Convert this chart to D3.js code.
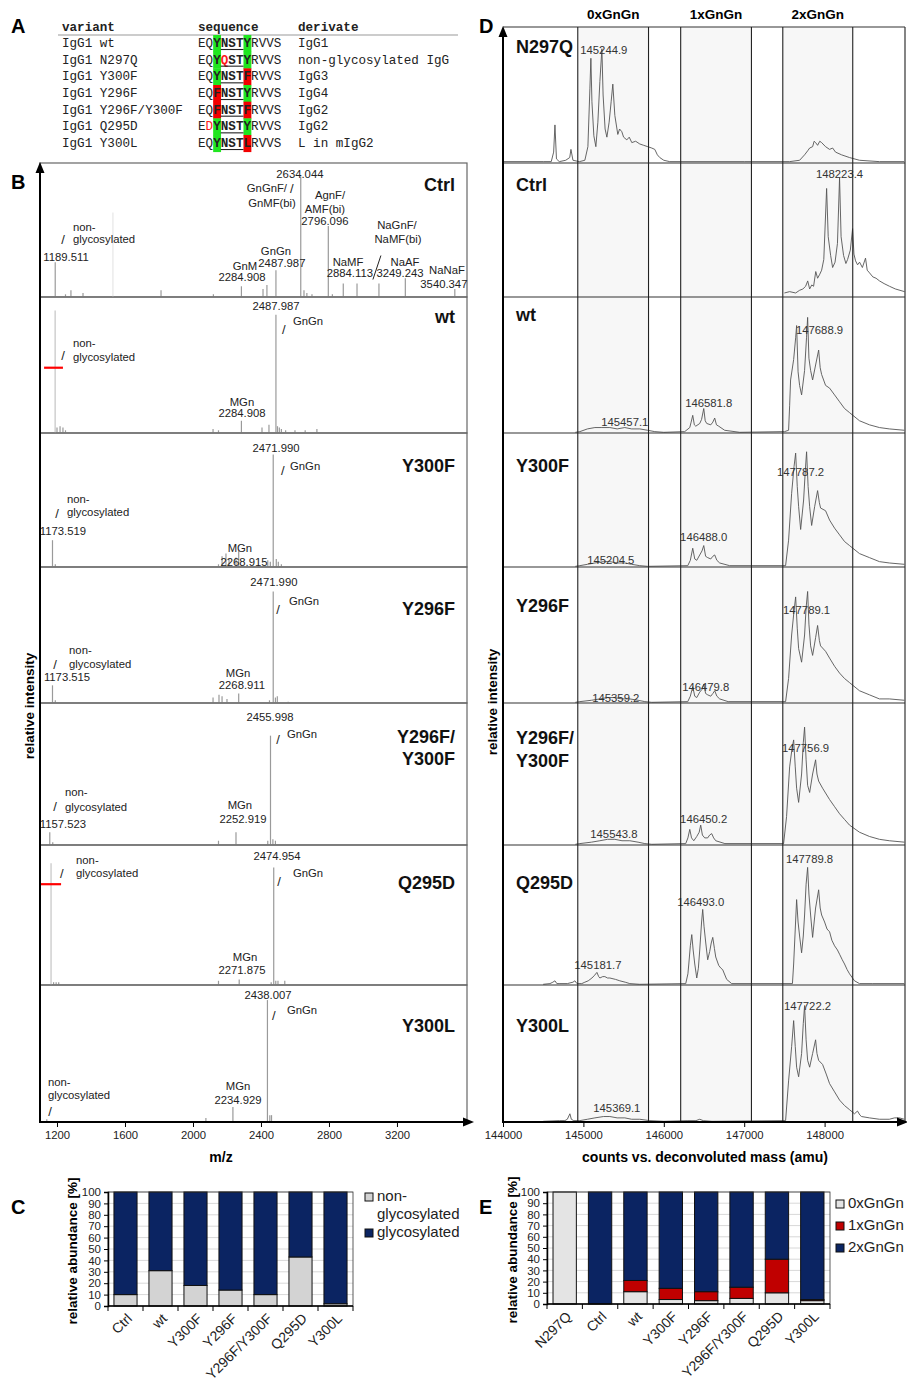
<!DOCTYPE html>
<meta charset="utf-8">
<style>
html, body { margin: 0; background: #fff; }
svg { display: block; font-family: "Liberation Sans", Arial, Helvetica, sans-serif; }
</style>
<body>
<svg id="fig" width="907" height="1386"></svg>
</body>
<script src="https://cdn.jsdelivr.net/npm/d3@7"></script>
<script>

/* ---------- panel A: variant table ---------- */
var variants = ["IgG1 wt", "IgG1 N297Q", "IgG1 Y300F", "IgG1 Y296F", "IgG1 Y296F/Y300F", "IgG1 Q295D", "IgG1 Y300L"];
var sequences = ["EQYNSTYRVVS", "EQYQSTYRVVS", "EQYNSTFRVVS", "EQFNSTYRVVS", "EQFNSTFRVVS", "EDYNSTYRVVS", "EQYNSTLRVVS"];
var derivates = ["IgG1", "non-glycosylated IgG", "IgG3", "IgG4", "IgG2", "IgG2", "L in mIgG2"];

/* ---------- panel B: MALDI spectra, [m/z, relative intensity %] ---------- */
var msSamples = ["Ctrl", "wt", "Y300F", "Y296F", "Y296F/Y300F", "Q295D", "Y300L"];
var mzTicks = [1200, 1600, 2000, 2400, 2800, 3200];

var peaksCtrl = [[1189.5,26],[1250,2],[1282,5],[1353,3],[1812,5],[2120,2],[2284.9,8],[2412,6],[2435,9],[2488,20],[2634,90],[2653,5],[2670,3],[2700,2],[2796.1,53],[2820,2],[2884.1,10],[2965,10],[3094,10],[3249.2,14],[3540.3,6]];
var peaksWt = [[1200,4],[1218,5],[1235,4],[1250,2],[2118,3],[2150,2],[2284.9,9],[2406,4],[2447,6],[2488,87],[2497,5],[2508,4],[2520,3],[2545,2],[2600,2],[2660,2],[2729,3]];
var peaksY300F = [[1173.5,20],[1190,2],[2150,2],[2171,8],[2194,10],[2212,6],[2253,7],[2268.9,12],[2440,5],[2455,4],[2472,84],[2490,6],[2502,4],[2520,2]];
var peaksY296F = [[1173.5,13],[1190,2],[2118,4],[2153,6],[2171,5],[2200,3],[2268.9,7],[2450,2],[2472,82],[2485,4],[2496,5],[2560,1]];
var peaksY296FY300F = [[1157.5,9],[1175,2],[2150,3],[2253,9],[2440,3],[2456,77],[2470,4],[2485,3]];
var peaksQ295D = [[1180,2],[1195,2],[1210,2],[2150,3],[2271.9,4],[2460,2],[2475,84],[2487,3],[2500,3],[2540,3]];
var peaksY300L = [[1140,2],[2076,3],[2234.9,11],[2438,89],[2452,5],[2462,5]];
var msPeaks = [peaksCtrl, peaksWt, peaksY300F, peaksY296F, peaksY296FY300F, peaksQ295D, peaksY300L];

// faint (light grey) peaks
var faintCtrl = [[1529,63]];
var faintWt = [[1189,90]];
var faintQ295D = [[1165,87]];
var msFaint = [faintCtrl, faintWt, [], [], [], faintQ295D, []];

// annotations: [text, m/z, intensity, anchor]
var labCtrl = [["2634.044",2629,92,"middle"],["GnGnF/",2435,81,"middle"],["/",2582,81,"middle"],["GnMF(bi)",2465,70,"middle"],
  ["AgnF/",2806,76,"middle"],["AMF(bi)",2776,66,"middle"],["2796.096",2776,57,"middle"],
  ["non-",1294,52,"start"],["/",1235,43,"middle"],["glycosylated",1294,43,"start"],["1189.511",1253,30,"middle"],
  ["GnGn",2488,34,"middle"],["2487.987",2523,25,"middle"],["GnM",2306,23,"middle"],["2284.908",2288,15,"middle"],
  ["NaMF",2912,26,"middle"],["2884.113",2923,18,"middle"],["NaGnF/",3200,54,"middle"],["NaMF(bi)",3206,43,"middle"],
  ["NaAF",3247,26,"middle"],["3249.243",3218,18,"middle"],["NaNaF",3494,20,"middle"],["3540.347",3476,10,"middle"]];
var labWt = [["2487.987",2488,93,"middle"],["/",2535,76,"middle"],["GnGn",2588,82,"start"],["non-",1294,66,"start"],
  ["/",1235,57,"middle"],["glycosylated",1294,56,"start"],["MGn",2288,23,"middle"],["2284.908",2288,15,"middle"]];
var labY300F = [["2471.990",2488,89,"middle"],["/",2529,72,"middle"],["GnGn",2571,75,"start"],["non-",1259,51,"start"],
  ["/",1200,40,"middle"],["glycosylated",1259,41,"start"],["1173.519",1235,27,"middle"],["MGn",2276,14,"middle"],["2268.915",2300,4,"middle"]];
var labY296F = [["2471.990",2476,89,"middle"],["/",2500,69,"middle"],["GnGn",2565,75,"start"],["non-",1271,39,"start"],
  ["/",1188,28,"middle"],["glycosylated",1271,29,"start"],["1173.515",1259,19,"middle"],["MGn",2265,22,"middle"],["2268.911",2288,13,"middle"]];
var labY296FY300F = [["2455.998",2453,90,"middle"],["/",2500,74,"middle"],["GnGn",2553,78,"start"],["non-",1247,37,"start"],
  ["/",1188,27,"middle"],["glycosylated",1247,27,"start"],["1157.523",1235,15,"middle"],["MGn",2276,28,"middle"],["2252.919",2294,18,"middle"]];
var labQ295D = [["2474.954",2494,92,"middle"],["/",2506,74,"middle"],["GnGn",2588,80,"start"],["non-",1312,89,"start"],
  ["/",1229,80,"middle"],["glycosylated",1312,80,"start"],["MGn",2306,20,"middle"],["2271.875",2288,11,"middle"]];
var labY300L = [["2438.007",2441,93,"middle"],["/",2476,78,"middle"],["GnGn",2553,82,"start"],["non-",1147,29,"start"],
  ["glycosylated",1147,20,"start"],["/",1159,8,"middle"],["MGn",2265,26,"middle"],["2234.929",2265,16,"middle"]];
var msLabels = [labCtrl, labWt, labY300F, labY296F, labY296FY300F, labQ295D, labY300L];
// the long slash between NaGnF/NaMF(bi) and its peak
var bigSlashCtrl = [3082, 22];
// red marks: [row, m/z from, m/z to, intensity]
var redMarks = [[1, 1124, 1235, 48], [5, 1100, 1224, 72]];

/* ---------- panel D: deconvoluted intact mass, [mass, relative intensity %] ---------- */
var dSamples = ["N297Q", "Ctrl", "wt", "Y300F", "Y296F", "Y296F/Y300F", "Q295D", "Y300L"];
var massTicks = [144000, 145000, 146000, 147000, 148000];
var gnRanges = [[144930, 145810], [146210, 147090], [147480, 148350]];
var gnNames = ["0xGnGn", "1xGnGn", "2xGnGn"];

var traceN297Q = [[144000,1],[144500,1],[144600,1],[144630,8],[144646,28],[144665,3],[144700,1],[144780,2],[144830,4],[144845,10],[144870,2],[144950,1],[145018,2],[145056,12],[145081,55],[145093,77],[145106,45],[145130,20],[145155,12],[145180,30],[145205,60],[145230,84],[145245,50],[145270,25],[145292,19],[145320,30],[145345,45],[145366,58],[145391,35],[145428,21],[145450,25],[145478,23],[145500,19],[145540,17],[145570,19],[145602,15],[145650,16],[145701,14],[145750,13],[145801,12],[145850,11],[145888,10],[145920,6],[145950,4],[146000,2],[146074,1],[147000,1],[147565,1],[147689,2],[147751,6],[147790,9],[147814,11],[147851,12],[147870,16],[147888,15],[147913,13],[147940,16],[147963,15],[148012,12],[148062,10],[148100,11],[148136,8],[148211,6],[148310,4],[148434,2],[148682,1],[148990,1]];
var traceCtrl = [[147500,3],[147565,4],[147640,3],[147689,5],[147730,6],[147764,8],[147790,12],[147814,6],[147840,9],[147863,8],[147890,19],[147913,14],[147940,17],[147963,20],[147990,28],[148025,81],[148045,45],[148075,31],[148100,22],[148130,26],[148160,40],[148186,89],[148205,45],[148236,31],[148265,25],[148286,28],[148320,35],[148348,51],[148365,32],[148385,27],[148410,24],[148435,26],[148470,22],[148509,29],[148530,20],[148559,18],[148600,15],[148640,14],[148683,12],[148740,10],[148807,8],[148880,6],[148994,4]];
var traceWt = [[144900,0.5],[144956,1],[145050,3],[145143,4],[145230,4],[145329,4],[145420,3],[145515,4],[145600,3],[145701,3],[145800,2],[145888,1],[146000,0.5],[146260,1],[146323,4],[146340,8],[146360,13],[146380,6],[146398,5],[146447,7],[146470,10],[146497,18],[146515,9],[146534,7],[146584,6],[146610,8],[146633,11],[146655,6],[146683,5],[146757,2],[146944,0.5],[147502,1],[147552,2],[147565,20],[147577,39],[147615,54],[147640,70],[147652,79],[147670,45],[147689,35],[147714,28],[147751,46],[147775,70],[147789,85],[147805,55],[147826,46],[147851,39],[147888,50],[147926,61],[147945,48],[147963,43],[148012,35],[148062,33],[148124,28],[148186,23],[148248,18],[148310,15],[148434,9],[148558,6],[148682,4],[148805,3],[148992,2]];
var traceY300F = [[144900,0.5],[144956,1],[145050,2],[145143,3],[145250,4],[145329,4],[145420,3],[145515,3],[145600,2],[145701,1],[145800,0.5],[146298,1],[146330,5],[146360,14],[146385,6],[146410,5],[146447,9],[146475,12],[146497,16],[146520,8],[146546,7],[146584,6],[146610,8],[146633,9],[146660,5],[146695,3],[146819,1],[147515,1],[147552,20],[147590,55],[147620,75],[147640,85],[147660,60],[147677,45],[147702,28],[147739,50],[147760,72],[147776,86],[147795,60],[147814,45],[147839,31],[147876,45],[147913,57],[147935,48],[147950,44],[148012,42],[148062,35],[148124,29],[148186,24],[148248,19],[148310,16],[148434,10],[148558,7],[148682,4],[148805,3],[148992,2]];
var traceY296F = [[144900,0.5],[144956,1],[145100,2],[145205,3],[145300,4],[145391,4],[145480,3],[145577,3],[145680,2],[145764,1],[145850,0.5],[146298,1],[146330,5],[146360,12],[146385,5],[146410,4],[146447,8],[146475,10],[146497,14],[146520,7],[146546,6],[146584,5],[146610,7],[146633,9],[146660,5],[146695,3],[146800,1],[147515,1],[147552,18],[147590,50],[147620,68],[147640,78],[147660,55],[147677,40],[147714,30],[147751,50],[147770,70],[147789,82],[147805,58],[147826,42],[147851,35],[147888,48],[147913,57],[147935,46],[147950,42],[148012,38],[148062,33],[148124,27],[148186,22],[148248,18],[148310,15],[148434,9],[148558,6],[148682,3],[148805,3],[148992,2]];
var traceY296FY300F = [[144900,0.5],[144956,1],[145100,2],[145205,3],[145300,4],[145391,4],[145480,3],[145577,3],[145680,2],[145764,1],[145850,0.5],[146273,1],[146300,5],[146323,11],[146345,5],[146373,3],[146410,6],[146440,9],[146459,14],[146480,7],[146509,5],[146546,5],[146570,7],[146596,8],[146620,5],[146646,3],[146760,1],[147490,1],[147527,20],[147565,55],[147595,68],[147615,74],[147635,55],[147652,40],[147677,30],[147714,50],[147735,72],[147751,83],[147770,60],[147789,42],[147814,37],[147851,50],[147888,60],[147905,50],[147926,45],[147975,40],[148062,32],[148124,27],[148186,22],[148248,18],[148310,14],[148434,9],[148558,6],[148682,4],[148805,3],[148992,2]];
var traceQ295D = [[144500,0.5],[144584,1],[144620,2],[144646,3],[144670,1],[144708,1],[144800,1],[144870,2],[144894,3],[144920,1],[144980,1],[145018,2],[145060,3],[145106,5],[145140,7],[145168,9],[145190,6],[145205,5],[145240,6],[145267,6],[145300,5],[145329,5],[145400,4],[145453,3],[145520,2],[145577,1],[145700,0.5],[146273,1],[146300,8],[146311,15],[146330,28],[146348,36],[146365,25],[146385,15],[146410,5],[146430,12],[146447,25],[146470,45],[146484,54],[146500,42],[146522,30],[146546,18],[146571,24],[146590,30],[146609,34],[146630,26],[146646,20],[146683,14],[146710,12],[146732,11],[146782,4],[146844,1],[147600,1],[147615,15],[147627,30],[147652,61],[147670,45],[147689,35],[147714,23],[147735,35],[147751,50],[147770,72],[147789,84],[147805,65],[147826,50],[147851,34],[147870,45],[147888,55],[147926,68],[147945,55],[147963,50],[148000,45],[148030,40],[148062,38],[148090,32],[148124,28],[148160,25],[148186,22],[148220,18],[148248,15],[148280,11],[148310,8],[148372,3],[148434,1],[148600,1],[148992,1]];
var traceY300L = [[144500,0.5],[144700,1],[144770,1],[144800,2],[144832,6],[144850,2],[144880,1],[144956,1],[145050,2],[145143,3],[145250,4],[145329,4],[145420,3],[145515,3],[145600,2],[145701,2],[145826,1],[146000,0.5],[146300,1],[146400,1],[146447,2],[146490,1],[146600,0.5],[147515,1],[147552,30],[147590,55],[147615,74],[147635,55],[147652,40],[147677,33],[147714,50],[147735,72],[147751,85],[147770,60],[147789,45],[147814,40],[147851,50],[147888,60],[147905,50],[147926,45],[147975,42],[148020,35],[148062,28],[148124,22],[148186,16],[148248,12],[148310,9],[148372,6],[148409,8],[148440,5],[148459,4],[148558,3],[148682,2],[148805,2],[148870,3],[148930,3],[148992,2]];
var dTraces = [traceN297Q, traceCtrl, traceWt, traceY300F, traceY296F, traceY296FY300F, traceQ295D, traceY300L];

// peak mass labels: [text, mass, intensity]
var dLabN297Q = [["145244.9",145254,83]];
var dLabCtrl = [["148223.4",148186,92]];
var dLabWt = [["145457.1",145515,8],["146581.8",146559,22],["147688.9",147937,76]];
var dLabY300F = [["145204.5",145341,5],["146488.0",146496,22],["147787.2",147701,71]];
var dLabY296F = [["145359.2",145403,4],["146479.8",146521,12],["147789.1",147776,68]];
var dLabY296FY300F = [["145543.8",145379,8],["146450.2",146496,18],["147756.9",147763,68]];
var dLabQ295D = [["145181.7",145180,14],["146493.0",146459,59],["147789.8",147813,90]];
var dLabY300L = [["145369.1",145416,10],["147722.2",147788,85]];
var dLabels = [dLabN297Q, dLabCtrl, dLabWt, dLabY300F, dLabY296F, dLabY296FY300F, dLabQ295D, dLabY300L];

/* ---------- panel C: glycosylation (%) ---------- */
var pctTicks = [0, 10, 20, 30, 40, 50, 60, 70, 80, 90, 100];
var cNonGly = [10, 31, 18, 14, 10, 43, 2];
var cGly = [90, 69, 82, 86, 90, 57, 98];

/* ---------- panel E: GnGn occupancy (%) ---------- */
var e0x = [100, 0, 11, 4, 3, 5, 10, 3];
var e1x = [0, 0, 10, 10, 8, 10, 30, 1];
var e2x = [0, 100, 79, 86, 89, 85, 60, 96];


var svg = d3.select("#fig");
var mono = '"Liberation Mono", "DejaVu Sans Mono", monospace';
var navy = "#0b2462", darkRed = "#c00000";

function panelLetter(t, x, y) {
  svg.append("text").attr("x", x).attr("y", y)
    .attr("font-size", 20).attr("font-weight", "bold").text(t);
}
panelLetter("A", 11, 33);
panelLetter("B", 11, 189);
panelLetter("C", 11, 1214);
panelLetter("D", 479, 33);
panelLetter("E", 479, 1214);

function arrowUp(g, x, y) {
  g.append("path").attr("d", "M" + (x - 4.5) + "," + (y + 11) + "L" + x + "," + y + "L" + (x + 4.5) + "," + (y + 11) + "Z").attr("fill", "#000");
}
function arrowRight(g, x, y) {
  g.append("path").attr("d", "M" + (x - 11) + "," + (y - 4.5) + "L" + x + "," + y + "L" + (x - 11) + "," + (y + 4.5) + "Z").attr("fill", "#000");
}

/* ===== A ===== */
(function() {
  var g = svg.append("g").attr("font-family", mono).attr("font-size", "12.6px").attr("fill", "#222");
  var cw = 7.58, colVar = 62, colSeq = 198, colDer = 298, y0 = 47, dy = 16.67;

  g.append("line").attr("x1", 58).attr("x2", 458).attr("y1", 35).attr("y2", 35)
    .attr("stroke", "#999").attr("stroke-width", 1);
  [["variant", colVar], ["sequence", colSeq], ["derivate", colDer]].forEach(function(h) {
    g.append("text").attr("x", h[1]).attr("y", 31).attr("font-weight", "bold").text(h[0]);
  });

  sequences.forEach(function(seq, i) {
    var yb = y0 + i * dy;
    [2, 6].forEach(function(p) {
      g.append("rect").attr("x", colSeq + p * cw).attr("y", yb - 12)
        .attr("width", cw + 0.3).attr("height", dy + 0.4)
        .attr("fill", seq[p] === "Y" ? "#20e620" : "#f20000");
    });
    g.append("text").attr("x", colVar).attr("y", yb).text(variants[i]);
    seq.split("").forEach(function(ch, p) {
      var mutated = ch !== sequences[0][p] && p !== 2 && p !== 6;
      g.append("text").attr("x", colSeq + p * cw).attr("y", yb)
        .attr("font-weight", p >= 2 && p <= 6 ? "bold" : null)
        .attr("fill", mutated ? "#ff1a1a" : "#222").text(ch);
    });
    g.append("line").attr("x1", colSeq + 3 * cw).attr("x2", colSeq + 6 * cw)
      .attr("y1", yb + 2.5).attr("y2", yb + 2.5).attr("stroke", "#222").attr("stroke-width", 1.1);
    g.append("text").attr("x", colDer).attr("y", yb).text(derivates[i]);
  });
})();

/* ===== B ===== */
(function() {
  var xB = d3.scaleLinear().domain([1100, 3612]).range([40, 467]);
  var rows = [163, 297, 433, 567, 703, 845, 985, 1122];
  var titleDy = [22, 20, 33, 42, 34, 38, 41];
  var g = svg.append("g");

  msSamples.forEach(function(name, i) {
    var top = rows[i], bot = rows[i + 1];
    var y = d3.scaleLinear().domain([0, 100]).range([bot, top]);
    var r = g.append("g");

    r.append("rect").attr("x", 40).attr("y", top).attr("width", 427).attr("height", bot - top)
      .attr("fill", "none").attr("stroke", "#666").attr("stroke-width", 1.2);

    r.selectAll("line.faint").data(msFaint[i]).enter().append("line")
      .attr("x1", function(d) { return xB(d[0]); }).attr("x2", function(d) { return xB(d[0]); })
      .attr("y1", bot).attr("y2", function(d) { return y(d[1]); })
      .attr("stroke", i === 0 ? "#e6e6e6" : "#c4c4c4").attr("stroke-width", 1.2);

    r.selectAll("line.pk").data(msPeaks[i]).enter().append("line")
      .attr("x1", function(d) { return xB(d[0]); }).attr("x2", function(d) { return xB(d[0]); })
      .attr("y1", bot).attr("y2", function(d) { return y(d[1]); })
      .attr("stroke", "#9a9a9a").attr("stroke-width", 1.2);

    r.selectAll("text.lab").data(msLabels[i]).enter().append("text")
      .attr("x", function(d) { return xB(d[1]); })
      .attr("y", function(d) { return y(d[2]); })
      .attr("dy", "0.35em")
      .attr("text-anchor", function(d) { return d[3]; })
      .attr("font-size", function(d) { return d[0] === "/" ? 13 : 11.3; })
      .attr("fill", "#222")
      .text(function(d) { return d[0]; });

    if (i === 0) {
      r.append("line")
        .attr("x1", xB(bigSlashCtrl[0]) - 4).attr("x2", xB(bigSlashCtrl[0]) + 4)
        .attr("y1", y(bigSlashCtrl[1]) + 12).attr("y2", y(bigSlashCtrl[1]) - 12)
        .attr("stroke", "#222").attr("stroke-width", 1);
    }

    var words = name.indexOf("/") > 0 ? [name.split("/")[0] + "/", name.split("/")[1]] : [name];
    words.forEach(function(w, k) {
      r.append("text").attr("x", 455).attr("y", top + titleDy[i] + k * 22)
        .attr("dy", "0.35em").attr("text-anchor", "end")
        .attr("font-size", 18).attr("font-weight", "bold").attr("fill", "#111").text(w);
    });
  });

  redMarks.forEach(function(m) {
    var y = d3.scaleLinear().domain([0, 100]).range([rows[m[0] + 1], rows[m[0]]]);
    g.append("line").attr("x1", xB(m[1])).attr("x2", xB(m[2]))
      .attr("y1", y(m[3])).attr("y2", y(m[3]))
      .attr("stroke", "#ff0000").attr("stroke-width", 2.2);
  });

  var ax = g.append("g").attr("transform", "translate(0,1122)")
    .call(d3.axisBottom(xB).tickValues(mzTicks).tickSize(5).tickPadding(4).tickFormat(d3.format("d")));
  ax.select(".domain").remove();
  ax.selectAll("text").attr("font-size", 11.3).attr("font-family", null).attr("fill", "#222");
  ax.selectAll("line").attr("stroke", "#000");

  g.append("line").attr("x1", 40).attr("x2", 466).attr("y1", 1122).attr("y2", 1122)
    .attr("stroke", "#000").attr("stroke-width", 2);
  arrowRight(g, 474, 1122);
  g.append("line").attr("x1", 40).attr("x2", 40).attr("y1", 1123).attr("y2", 170)
    .attr("stroke", "#000").attr("stroke-width", 2);
  arrowUp(g, 40, 162);

  g.append("text").attr("x", 221).attr("y", 1162).attr("text-anchor", "middle")
    .attr("font-size", 14).attr("font-weight", "bold").text("m/z");
  g.append("text").attr("transform", "translate(34,706) rotate(-90)").attr("text-anchor", "middle")
    .attr("font-size", 13.5).attr("font-weight", "bold").text("relative intensity");
})();

/* ===== D ===== */
(function() {
  var xD = d3.scaleLinear().domain([144000, 149000]).range([503, 905]);
  var rows = [27, 163, 297, 433, 567, 703, 845, 985, 1122];
  var titleDy = [20, 22, 18, 33, 39, 35, 38, 41];
  var g = svg.append("g");

  gnRanges.forEach(function(r, k) {
    g.append("rect").attr("x", xD(r[0])).attr("y", 27).attr("width", xD(r[1]) - xD(r[0])).attr("height", 1095)
      .attr("fill", "#f7f7f7");
    g.append("text").attr("x", (xD(r[0]) + xD(r[1])) / 2).attr("y", 14).attr("dy", "0.35em")
      .attr("text-anchor", "middle").attr("font-size", 13.5).attr("font-weight", "bold").text(gnNames[k]);
  });

  dSamples.forEach(function(name, i) {
    var top = rows[i], bot = rows[i + 1];
    var y = d3.scaleLinear().domain([0, 100]).range([bot, top]);
    var line = d3.line().x(function(d) { return xD(d[0]); }).y(function(d) { return y(d[1]); });

    g.append("line").attr("x1", 503).attr("x2", 905).attr("y1", top).attr("y2", top)
      .attr("stroke", "#333").attr("stroke-width", 1.2);

    g.append("path").datum(dTraces[i]).attr("d", line)
      .attr("fill", "none").attr("stroke", "#555").attr("stroke-width", 0.9);

    g.selectAll("text.dl" + i).data(dLabels[i]).enter().append("text")
      .attr("x", function(d) { return xD(d[1]); })
      .attr("y", function(d) { return y(d[2]); })
      .attr("dy", "0.35em").attr("text-anchor", "middle")
      .attr("font-size", 11.3).attr("fill", "#333")
      .text(function(d) { return d[0]; });

    var words = name.indexOf("/") > 0 ? [name.split("/")[0] + "/", name.split("/")[1]] : [name];
    words.forEach(function(w, k) {
      g.append("text").attr("x", 516).attr("y", top + titleDy[i] + k * 23)
        .attr("dy", "0.35em").attr("font-size", 18).attr("font-weight", "bold").attr("fill", "#111").text(w);
    });
  });

  gnRanges.forEach(function(r) {
    r.forEach(function(m) {
      g.append("line").attr("x1", xD(m)).attr("x2", xD(m)).attr("y1", 27).attr("y2", 1122)
        .attr("stroke", "#222").attr("stroke-width", 1.1);
    });
  });
  g.append("line").attr("x1", 905).attr("x2", 905).attr("y1", 27).attr("y2", 1122)
    .attr("stroke", "#333").attr("stroke-width", 1.2);

  var ax = g.append("g").attr("transform", "translate(0,1122)")
    .call(d3.axisBottom(xD).tickValues(massTicks).tickSize(5).tickPadding(4).tickFormat(d3.format("d")));
  ax.select(".domain").remove();
  ax.selectAll("text").attr("font-size", 11.3).attr("font-family", null).attr("fill", "#222");
  ax.selectAll("line").attr("stroke", "#000");

  g.append("line").attr("x1", 503).attr("x2", 900).attr("y1", 1122).attr("y2", 1122)
    .attr("stroke", "#000").attr("stroke-width", 2);
  arrowRight(g, 908, 1122);
  g.append("line").attr("x1", 503).attr("x2", 503).attr("y1", 1123).attr("y2", 34)
    .attr("stroke", "#000").attr("stroke-width", 2);
  arrowUp(g, 503, 26);

  g.append("text").attr("x", 705).attr("y", 1162).attr("text-anchor", "middle")
    .attr("font-size", 14).attr("font-weight", "bold").text("counts vs. deconvoluted mass (amu)");
  g.append("text").attr("transform", "translate(497,702) rotate(-90)").attr("text-anchor", "middle")
    .attr("font-size", 13.5).attr("font-weight", "bold").text("relative intensity");
})();

/* ===== stacked bar panels C and E ===== */
function stackedBars(opt) {
  var g = svg.append("g");
  var x = d3.scaleBand().domain(opt.cats).range(opt.xr).paddingInner(0.34).paddingOuter(0.17);
  var y = d3.scaleLinear().domain([0, 100]).range(opt.yr);

  g.selectAll("line.grid").data(pctTicks.slice(1)).enter().append("line")
    .attr("x1", opt.xr[0]).attr("x2", opt.xr[1])
    .attr("y1", function(d) { return y(d); }).attr("y2", function(d) { return y(d); })
    .attr("stroke", "#d8d8d8").attr("stroke-width", 1);

  var stack = d3.stack().keys(opt.keys)(opt.cats.map(function(c, i) {
    var row = { cat: c };
    opt.keys.forEach(function(k, j) { row[k] = opt.series[j][i]; });
    return row;
  }));
  stack.forEach(function(layer, j) {
    g.selectAll("rect.s" + j).data(layer.filter(function(d) { return d[1] > d[0]; })).enter().append("rect")
      .attr("x", function(d) { return x(d.data.cat); })
      .attr("width", x.bandwidth())
      .attr("y", function(d) { return y(d[1]); })
      .attr("height", function(d) { return y(d[0]) - y(d[1]); })
      .attr("fill", opt.colors[j]).attr("stroke", "#111").attr("stroke-width", 1);
  });

  g.append("rect").attr("x", opt.xr[0]).attr("y", opt.yr[1])
    .attr("width", opt.xr[1] - opt.xr[0]).attr("height", opt.yr[0] - opt.yr[1])
    .attr("fill", "none").attr("stroke", "#333").attr("stroke-width", 0.8);

  var ay = g.append("g").attr("transform", "translate(" + opt.xr[0] + ",0)")
    .call(d3.axisLeft(y).tickValues(pctTicks).tickSize(4).tickPadding(3));
  ay.select(".domain").attr("stroke", "#000").attr("stroke-width", 1.5);
  ay.selectAll("text").attr("font-size", 11.5).attr("font-family", null).attr("fill", "#222");

  g.append("line").attr("x1", opt.xr[0]).attr("x2", opt.xr[1]).attr("y1", opt.yr[0]).attr("y2", opt.yr[0])
    .attr("stroke", "#000").attr("stroke-width", 1.5);
  opt.cats.forEach(function(c, i) {
    var bx = opt.xr[0] + i * x.step();
    g.append("line").attr("x1", bx).attr("x2", bx).attr("y1", opt.yr[0]).attr("y2", opt.yr[0] + 5).attr("stroke", "#000");
    var cx = x(c) + x.bandwidth() / 2 + 4;
    g.append("text").attr("transform", "translate(" + cx + "," + (opt.yr[0] + 10) + ") rotate(-45)")
      .attr("text-anchor", "end").attr("dy", "0.35em").attr("font-size", 14).attr("fill", "#222").text(c);
  });
  g.append("line").attr("x1", opt.xr[1]).attr("x2", opt.xr[1]).attr("y1", opt.yr[0]).attr("y2", opt.yr[0] + 5).attr("stroke", "#000");

  g.append("text").attr("transform", "translate(" + opt.titleX + "," + ((opt.yr[0] + opt.yr[1]) / 2 + 2) + ") rotate(-90)")
    .attr("text-anchor", "middle").attr("font-size", 13.5).attr("font-weight", "bold").text("relative abundance [%]");

  opt.legend.forEach(function(L, k) {
    g.append("rect").attr("x", opt.legX).attr("y", L[1]).attr("width", 8).attr("height", 8)
      .attr("fill", opt.colors[k]).attr("stroke", "#111").attr("stroke-width", 1);
    L[0].forEach(function(t, m) {
      g.append("text").attr("x", opt.legX + 12).attr("y", L[1] + 8 + m * 18).attr("font-size", 15).attr("fill", "#222").text(t);
    });
  });
}

stackedBars({
  cats: msSamples, keys: ["non", "gly"], series: [cNonGly, cGly],
  colors: ["#d3d3d3", navy], xr: [108, 353], yr: [1306, 1192], titleX: 77,
  legX: 365, legend: [[["non-", "glycosylated"], 1193], [["glycosylated"], 1229]]
});
stackedBars({
  cats: dSamples, keys: ["g0", "g1", "g2"], series: [e0x, e1x, e2x],
  colors: ["#e4e4e4", darkRed, navy], xr: [547, 830], yr: [1304, 1192], titleX: 517,
  legX: 836, legend: [[["0xGnGn"], 1200], [["1xGnGn"], 1222], [["2xGnGn"], 1244]]
});

</script>
